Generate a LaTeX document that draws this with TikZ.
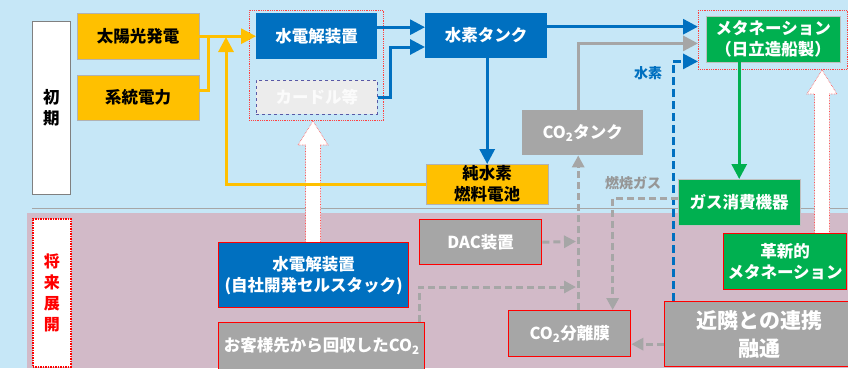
\documentclass[tikz,border=0pt]{standalone}
\usepackage{fontspec}
\setmainfont{Noto Sans CJK JP}
\usetikzlibrary{arrows.meta}
\definecolor{skyBg}{RGB}{198,231,247}
\definecolor{pinkBg}{RGB}{210,186,200}
\definecolor{sunYellow}{RGB}{255,192,0}
\definecolor{elecBlue}{RGB}{0,112,192}
\definecolor{methGreen}{RGB}{0,176,80}
\definecolor{tankGray}{RGB}{166,166,166}
\definecolor{textGray}{RGB}{150,150,150}
\newcommand{\myBigArrow}[3]{
\draw[red!70, densely dotted, fill=white, line width=0.6pt] (#1-7.5,#3) -- (#1-7.5,#2+24) -- (#1-15,#2+24) -- (#1,#2) -- (#1+15,#2+24) -- (#1+7.5,#2+24) -- (#1+7.5,#3);
}
\tikzset{
  myBox/.style={anchor=north west, inner sep=0pt, align=center,
    font=\bfseries\fontsize{16.5}{21}\selectfont},
  boxYellow/.style={myBox, fill=sunYellow, draw=gray!60, text=black},
  boxBlue/.style={myBox, fill=elecBlue, text=white},
  boxGreen/.style={myBox, fill=methGreen, draw=gray!50, text=white},
  boxGray/.style={myBox, fill=tankGray, text=white},
  redEdge/.style={draw=red, line width=1.3pt},
  groupBox/.style={anchor=north west, inner sep=0pt, draw=red!75, densely dotted, line width=0.8pt},
  arrTip/.style={-{Triangle[length=15pt,width=15pt]}},
  arrTipS/.style={-{Triangle[length=12pt,width=12pt]}},
  lineYellow/.style={sunYellow, line width=3pt, arrTip},
  lineBlue/.style={elecBlue, line width=3pt, arrTip},
  lineGray/.style={tankGray, line width=3pt, arrTip},
  lineDash/.style={tankGray, line width=3pt, dash pattern=on 7pt off 4pt, arrTipS},
}
\begin{document}
\begin{tikzpicture}[x=1pt,y=-1pt]
  % background
  \useasboundingbox (0,0) rectangle (848,368);
  \clip (0,0) rectangle (848,368);
  \fill[skyBg] (0,0) rectangle (848,368);
  \fill[pinkBg] (27,213) rectangle (848,368);
  \draw[gray!70, line width=0.8pt] (32,208) -- (848,208);
  % phase labels
  \node[myBox, fill=white, draw=gray, line width=0.8pt, minimum width=38pt, minimum height=173pt] (syoki) at (32,21) {初\\期};
  \node[myBox, fill=white, draw=red, densely dotted, line width=1.5pt, minimum width=38pt, minimum height=148pt, text=red, font=\bfseries\fontsize{16}{21}\selectfont] (shorai) at (32,218) {将\\来\\展\\開};
  % big arrows
  \myBigArrow{313}{121}{243}
  \myBigArrow{822}{70}{234}
  % group frames
  \node[groupBox, minimum width=134pt, minimum height=110pt] (elecGroup) at (249,10) {};
  \node[groupBox, minimum width=149pt, minimum height=59pt] (methGroup) at (698,10) {};
  % present boxes
  \node[boxYellow, minimum width=122pt, minimum height=46pt] (solar) at (77,13) {太陽光発電};
  \node[boxYellow, minimum width=122pt, minimum height=45pt] (grid) at (77,75) {系統電力};
  \node[boxBlue, minimum width=121pt, minimum height=46pt] (elec) at (256,13) {水電解装置};
  \node[myBox, fill=gray!15, draw=blue!30!gray, dashed, line width=0.6pt, text=gray!3, minimum width=121pt, minimum height=34pt] (cardle) at (256,80) {カードル等};
  \node[boxBlue, minimum width=122pt, minimum height=45pt] (h2tank) at (425,13) {水素タンク};
  \node[boxGreen, minimum width=134pt, minimum height=46pt] (metha) at (706,16) {メタネーション\\（日立造船製）};
  \node[boxGray, minimum width=121pt, minimum height=45pt] (co2tank) at (522,110) {CO\textsubscript{2}タンク};
  \node[boxYellow, minimum width=122pt, minimum height=40pt] (fuelcell) at (426,164) {純水素\\燃料電池};
  \node[boxGreen, minimum width=122pt, minimum height=46pt] (gasuse) at (678,179) {ガス消費機器};
  % future boxes
  \node[boxBlue, redEdge, minimum width=190pt, minimum height=65pt] (newelec) at (218,242) {水電解装置\\(自社開発セルスタック)};
  \node[boxGray, redEdge, minimum width=206pt, minimum height=50pt, text depth=6pt] (custco2) at (218,322) {お客様先から回収したCO\textsubscript{2}};
  \node[boxGray, redEdge, minimum width=122pt, minimum height=45pt] (dac) at (419,219) {DAC装置};
  \node[boxGray, redEdge, minimum width=122pt, minimum height=46pt] (co2sep) at (508,310) {CO\textsubscript{2}分離膜};
  \node[boxGreen, redEdge, minimum width=123pt, minimum height=56pt] (innovmeth) at (723,233) {革新的\\メタネーション};
  \node[boxGray, redEdge, minimum width=190pt, minimum height=65pt, font=\bfseries\fontsize{21}{28}\selectfont] (kinrin) at (664,301) {近隣との連携\\融通};
  % labels
  \node[text=elecBlue, font=\bfseries\fontsize{14}{16}\selectfont] (h2label) at (648,73) {水素};
  \node[text=textGray, font=\bfseries\fontsize{14}{16}\selectfont] (gaslabel) at (633,183) {燃焼ガス};
  % free ends
  \coordinate (solarJoin) at (226,37);
  \coordinate (co2Riser) at ([xshift=-4.5pt]co2tank.south);
  \coordinate (dacEnd) at (576,241.5);
  \coordinate (custEnd) at (576,287);
  % power lines
  \draw[lineYellow] (solar.east) -- (elec.west);
  \draw[sunYellow, line width=3pt] ([yshift=7pt]grid.east) -| (208,36);
  \draw[lineYellow] (fuelcell.west) -| (solarJoin);
  % hydrogen lines
  \draw[lineBlue] ([yshift=9pt]elec.east) -- ([yshift=9pt]elec.east -| h2tank.west);
  \draw[lineBlue] (cardle.east) -| (390,47) -- (390,47 -| h2tank.west);
  \draw[lineBlue] ([yshift=9pt]h2tank.east) -- ([yshift=9pt]h2tank.east -| methGroup.west);
  \draw[lineBlue] (h2tank.south -| fuelcell.north) -- (fuelcell.north);
  \draw[elecBlue, line width=3pt, dash pattern=on 8pt off 4pt, arrTip] ([xshift=9pt]kinrin.north west) |- ([yshift=-21.5pt]methGroup.west);
  % CO2 and gas lines
  \draw[lineGray] ([xshift=-4.5pt]co2tank.north) |- ([yshift=-3.5pt]methGroup.west);
  \draw[methGreen, line width=3pt, arrTip] (metha.south -| gasuse.north) -- (gasuse.north);
  \draw[lineDash] (dac.east) -- (dacEnd);
  \draw[lineDash] (co2sep.north -| co2Riser) -- (co2Riser);
  \draw[lineDash] ([xshift=201pt]custco2.north west) |- (custEnd);
  \draw[lineDash] ([yshift=4pt]gasuse.west) -| ([xshift=43pt]co2sep.north);
  \draw[lineDash] ([yshift=-10pt]kinrin.west) -- ([yshift=-10pt]kinrin.west -| co2sep.east);
\end{tikzpicture}
\end{document}
